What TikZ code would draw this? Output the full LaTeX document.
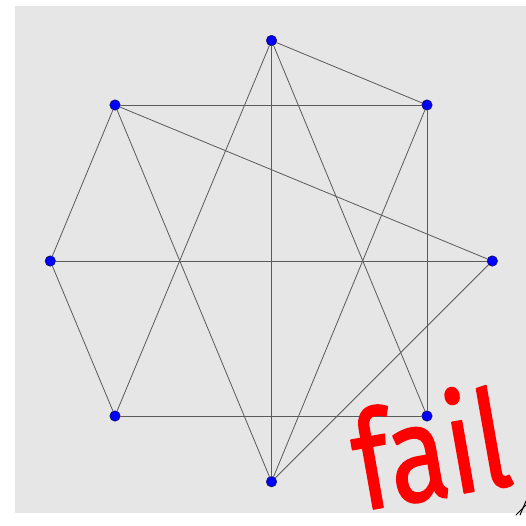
\documentclass[tikz,border=0pt]{standalone}
\usepackage{fontspec}
\newfontfamily\failfont{Fira Sans}[FakeBold=1.2]
\definecolor{panelgray}{HTML}{E6E6E6}
\definecolor{edgegray}{HTML}{5A5A5A}
\definecolor{vertexblue}{HTML}{0000FF}
\definecolor{vertexline}{HTML}{10104A}
\definecolor{failred}{HTML}{FF0000}

\begin{document}
\begin{tikzpicture}[
  x=1pt,
  y=-1pt,
  line join=round,
  line cap=round,
  vertex/.style={circle,fill=vertexblue,draw=vertexline,line width=0.5pt,inner sep=0pt,minimum size=10.5pt},
  edge/.style={draw=edgegray,line width=0.8pt},
  grip/.style={draw=black,line width=1pt}
]
  \useasboundingbox (0,0) rectangle (526,525);
  \fill[panelgray] (15,6) rectangle (526,513);

  % The eight vertices.
  \node[vertex] (T)  at (271.5,40.5) {};
  \node[vertex] (UL) at (115,105) {};
  \node[vertex] (UR) at (427,105) {};
  \node[vertex] (L)  at (50.3,261) {};
  \node[vertex] (R)  at (492.3,261) {};
  \node[vertex] (LL) at (115,416) {};
  \node[vertex] (LR) at (427,416) {};
  \node[vertex] (B)  at (271.5,481.7) {};

  % Edges between the vertices.
  \foreach \a/\b in {T/UR,T/B,T/LL,T/LR,UL/UR,UL/L,UL/R,UL/B,UR/LR,UR/B,L/R,L/LL,LL/LR,R/B} {
    \draw[edge] (\a) -- (\b);
  }

  % Resize grip in the corner.
  \coordinate (G1) at (516,515);
  \coordinate (G2) at (526,505);
  \draw[grip] (G1) -- (G2);
  \draw[grip] ([xshift=4]G1) -- ([yshift=4]G2);

  \node[anchor=base west,rotate=10,xscale=0.8,text=failred,font=\failfont\fontsize{136}{136}\selectfont,inner sep=0pt] (fail) at (362,511) {fail};
\end{tikzpicture}
\end{document}
